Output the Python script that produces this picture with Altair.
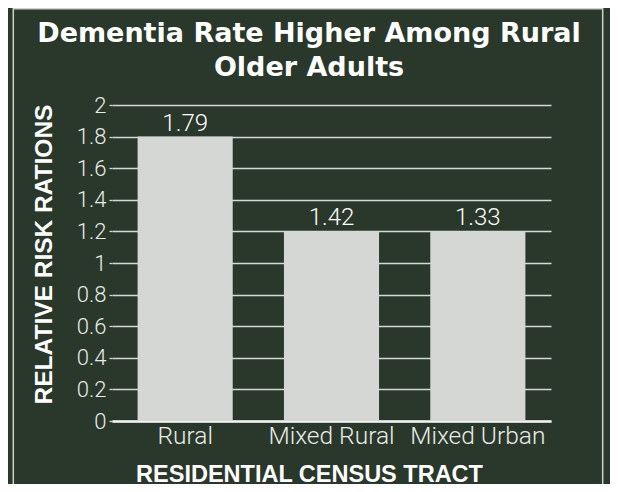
import altair as alt
import pandas as pd

categories = ["Rural", "Mixed Rural", "Mixed Urban"]
bar_heights = [1.8, 1.2, 1.2]
value_labels = ["1.79", "1.42", "1.33"]
y_ticks = [0, 0.2, 0.4, 0.6, 0.8, 1, 1.2, 1.4, 1.6, 1.8, 2]

df = pd.DataFrame({"tract": categories, "ratio": bar_heights, "label": value_labels})
frame_df = pd.DataFrame({"k": [0]})

BG = "#2a382b"
GRID = "#d6d8d5"
LABEL = "#e9ebe8"

x_enc = alt.X(
    "tract:N",
    sort=categories,
    scale=alt.Scale(paddingInner=0.35, paddingOuter=0.175),
    axis=alt.Axis(
        title="RESIDENTIAL CENSUS TRACT",
        labelAngle=0,
        ticks=False,
        domain=True,
        domainColor="#f4f4f4",
        domainWidth=2.5,
        labelFont="Roboto",
        labelFontSize=24.5,
        labelFontWeight=300,
        labelColor=LABEL,
        labelPadding=3,
        titleFont="Liberation Sans",
        titleFontWeight="bold",
        titleFontSize=23.5,
        titleColor="white",
        titleX=197,
        titleY=60,
        titleBaseline="alphabetic",
        titleAlign="center",
    ),
)

y_enc = alt.Y(
    "ratio:Q",
    scale=alt.Scale(domain=[0, 2]),
    axis=alt.Axis(
        values=y_ticks,
        tickCount=11,
        format="~g",
        labelOverlap=False,
        title="RELATIVE RISK RATIONS",
        grid=True,
        gridColor=GRID,
        gridWidth=1.3,
        domain=False,
        ticks=True,
        tickSize=3,
        tickColor=GRID,
        tickWidth=1.3,
        labelPadding=3,
        labelFont="Roboto",
        labelFontSize=22,
        labelFontWeight=300,
        labelColor=LABEL,
        titleFont="Liberation Sans",
        titleFontWeight="bold",
        titleFontSize=24.5,
        titleColor="white",
        titleX=-68,
        titleY=149,
        titleBaseline="middle",
        titleAlign="center",
    ),
)

frame = alt.Chart(frame_df).mark_rect(
    fillOpacity=0, stroke="#cdd0cc", strokeWidth=1.5
).encode(
    x=alt.value(-98.7), x2=alt.value(490.7), y=alt.value(-96.2), y2=alt.value(400)
)

bars = alt.Chart(df).mark_bar(color="#d5d7d4").encode(x=x_enc, y=y_enc)

text = alt.Chart(df).mark_text(
    baseline="alphabetic", dy=-6, font="Roboto", fontSize=24, fontWeight=300, color="white"
).encode(x=x_enc, y=y_enc, text="label:N")

chart = (
    alt.layer(frame, bars, text)
    .properties(
        width=439,
        height=316,
        padding={"left": 104, "top": 97, "right": 59, "bottom": 63},
        autosize=alt.AutoSizeParams(type="none"),
        background=BG,
        title=alt.TitleParams(
            ["Dementia Rate Higher Among Rural", "Older Adults"],
            font="DejaVu Sans",
            fontSize=27,
            fontWeight="bold",
            color="white",
            anchor="middle",
            frame="group",
            dx=-22.5,
            offset=-74,
            lineHeight=33.7,
        ),
    )
    .configure_view(stroke=None)
)

chart.save("out.html", embed_options={"renderer": "svg", "actions": False})
